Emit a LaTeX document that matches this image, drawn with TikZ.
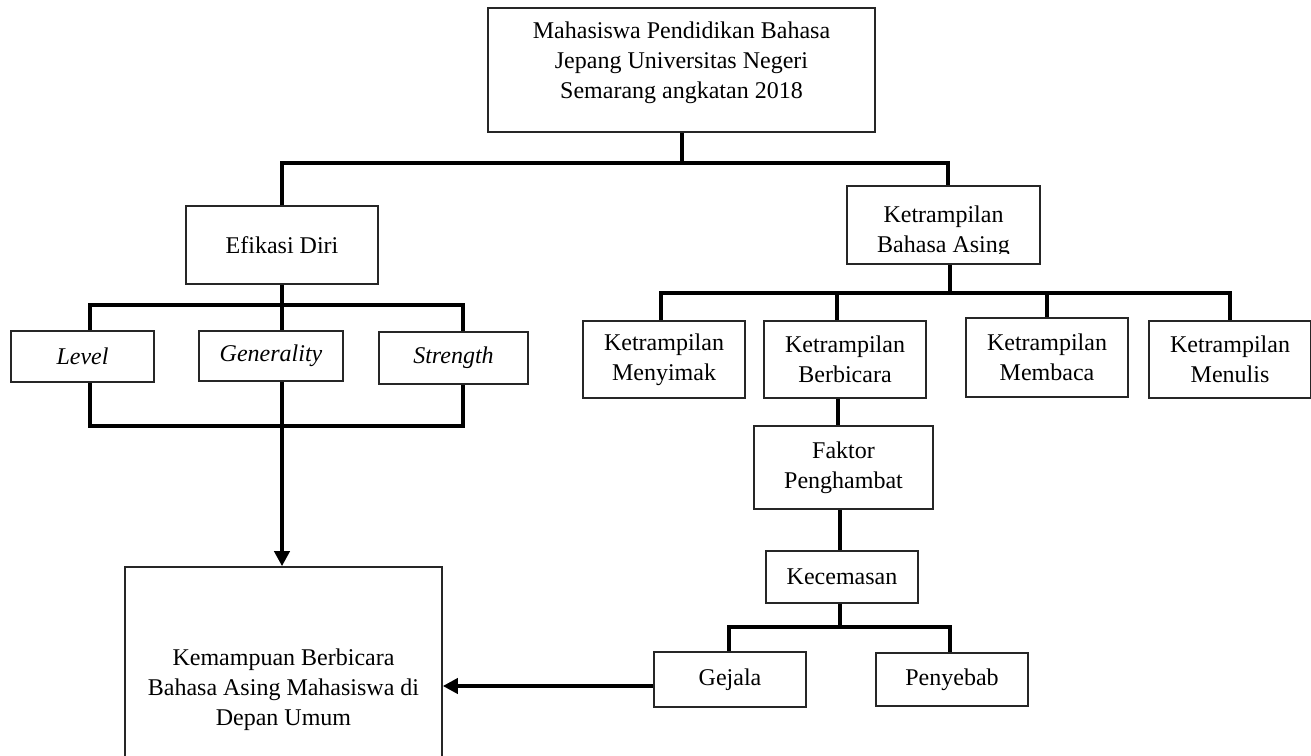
\documentclass[tikz,border=0pt]{standalone}
\usepackage{fontspec}
\setmainfont{Liberation Serif}
\usetikzlibrary{arrows.meta}
\begin{document}
\begin{tikzpicture}[x=0.5pt,y=-0.5pt,
  box/.style={draw=black!85, line width=0.8pt, inner sep=0pt, align=center, font=\fontsize{12}{15}\selectfont},
  txt/.style={inner sep=0pt, align=center, font=\fontsize{12}{15}\selectfont},
  sz/.style 2 args={minimum width=#1*0.5pt, minimum height=#2*0.5pt},
  conn/.style={line width=2pt, line join=miter},
  arr/.style={conn, -{Triangle[length=7.5pt,width=7.5pt]}}]
\useasboundingbox (0,0) rectangle (1311,755);

% boxes
\node[box, sz={387}{124}] (top) at (681.5,70) {};
\node[txt] (toptxt) at (681.5,63) {Mahasiswa Pendidikan Bahasa\\Jepang Universitas Negeri\\Semarang angkatan 2018};

\node[box, sz={192}{78}] (efi) at (282,245) {Efikasi Diri};

\node[box, sz={193}{78}] (kba) at (943.5,225) {};
\begin{scope}
  \clip (847,186) rectangle (1040,253);
  \node[txt] (kbatxt) at (943.5,232) {Ketrampilan\\Bahasa Asing};
\end{scope}

\node[box, sz={143}{51}] (lev) at (82.5,356.5) {\itshape Level};
\node[box, sz={144}{50}] (gen) at (271,356) {\itshape Generality};
\node[box, sz={149}{52}] (str) at (453.5,358) {\itshape Strength};

\node[box, sz={162}{77}] (meny) at (664,359.5) {Ketrampilan\\Menyimak};
\node[box, sz={162}{77}] (berb) at (845,359.5) {Ketrampilan\\Berbicara};
\node[box, sz={162}{79}] (memb) at (1047,357.5) {Ketrampilan\\Membaca};
\node[box, sz={162}{77}] (menu) at (1230,359.5) {Ketrampilan\\Menulis};

\node[box, sz={179}{83}] (fak) at (843.5,467.5) {Faktor\\Penghambat};
\node[box, sz={152}{52}] (kec) at (842,577) {Kecemasan};
\node[box, sz={152}{55}] (gej) at (730,679.5) {Gejala};
\node[box, sz={152}{53}] (pen) at (952,679.5) {Penyebab};

\node[box, sz={317}{246}] (kem) at (283.5,690) {Kemampuan Berbicara\\Bahasa Asing Mahasiswa di\\Depan Umum};

% connectors: top level
\draw[conn] (top.south) -- (top.south |- 0,163);
\draw[conn] (efi.north) -- (282,163) -- (948,163) -- (kba.north -| 948,0);

% Efikasi group
\draw[conn] (efi.south) -- (282,305);
\draw[conn] (lev.north -| 90,0) -- (90,305) -- (463,305) -- (str.north -| 463,0);
\draw[conn] (282,305) -- (gen.north -| 282,0);
\draw[conn] (lev.south -| 90,0) -- (90,426) -- (463,426) -- (str.south -| 463,0);
\draw[arr] (gen.south -| 282,0) -- (kem.north -| 282,0);

% Ketrampilan group
\draw[conn] (kba.south -| 950,0) -- (950,293);
\draw[conn] (meny.north -| 661,0) -- (661,293) -- (1230,293) -- (menu.north -| 1230,0);
\draw[conn] (837,293) -- (berb.north -| 837,0);
\draw[conn] (1047,293) -- (memb.north -| 1047,0);
\draw[conn] (berb.south -| 838,0) -- (fak.north -| 838,0);
\draw[conn] (fak.south -| 840,0) -- (kec.north -| 840,0);
\draw[conn] (kec.south -| 840,0) -- (840,627);
\draw[conn] (gej.north -| 729,0) -- (729,627) -- (950,627) -- (pen.north -| 950,0);
\draw[arr] (gej.west |- 0,686) -- (kem.east |- 0,686);
\end{tikzpicture}
\end{document}
